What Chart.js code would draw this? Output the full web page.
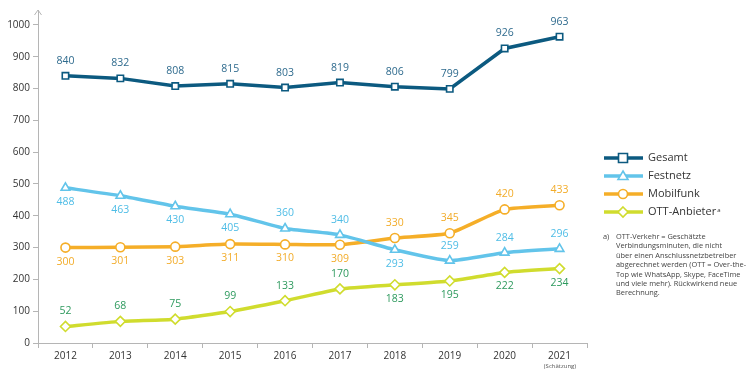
<!DOCTYPE html>
<html>
<head>
<meta charset="utf-8">
<script src="https://cdn.jsdelivr.net/npm/chart.js@4/dist/chart.umd.min.js"></script>
<style>
  html, body { margin: 0; padding: 0; background: #fff; }
  #wrap { position: relative; width: 750px; height: 378px; }
  #note {
    position: absolute; left: 603px; top: 232px; width: 147px;
    font-family: "Open Sans", sans-serif; font-size: 7.4px; line-height: 9.4px; color: #444;
    white-space: nowrap;
  }
  #note .a { position: absolute; left: 0; top: 0; }
  #note .t { margin-left: 13px; }
  #sch {
    position: absolute; left: 540px; top: 362px; width: 40px; text-align: center;
    font-family: "Open Sans", sans-serif; font-size: 6px; color: #555;
  }
</style>
</head>
<body>
<div id="wrap">
  <canvas id="chart" width="750" height="378"></canvas>
  <div id="note"><span class="a">a)</span><div class="t">OTT-Verkehr = Geschätzte<br>Verbindungsminuten, die nicht<br>über einen Anschlussnetzbetreiber<br>abgerechnet werden (OTT = Over-the-<br>Top wie WhatsApp, Skype, FaceTime<br>und viele mehr). Rückwirkend neue<br>Berechnung.</div></div>
  <div id="sch">(Schätzung)</div>
</div>
<script>
// Daten
var jahre = ["2012", "2013", "2014", "2015", "2016", "2017", "2018", "2019", "2020", "2021"];
var gesamt = [840, 832, 808, 815, 803, 819, 806, 799, 926, 963];
var festnetz = [488, 463, 430, 405, 360, 340, 293, 259, 284, 296];
var mobilfunk = [300, 301, 303, 311, 310, 309, 330, 345, 420, 433];
var ott = [52, 68, 75, 99, 133, 170, 183, 195, 222, 234];

// label ober-/unterhalb (1 = oben, -1 = unten)
var posGesamt = [1, 1, 1, 1, 1, 1, 1, 1, 1, 1];
var posFestnetz = [-1, -1, -1, -1, 1, 1, -1, 1, 1, 1];
var posMobilfunk = [-1, -1, -1, -1, -1, -1, 1, 1, 1, 1];
var posOtt = [1, 1, 1, 1, 1, 1, -1, -1, -1, -1];

var farben = {
    gesamt: "#0c5a80",
    festnetz: "#62c4ea",
    mobilfunk: "#f5ae28",
    ott: "#d0dc2e"
};

var radien = { rect: 4.5, triangle: 5, circle: 4.5, rectRot: 5 };

function serie(label, data, farbe, style, pos, labelFarbe) {
    return {
        label: label,
        data: data,
        borderColor: farbe,
        backgroundColor: "#fff",
        borderWidth: 3.5,
        pointStyle: style,
        pointRadius: radien[style],
        pointBorderWidth: 1.6,
        pointBackgroundColor: "#fff",
        pointBorderColor: farbe,
        tension: label == "Gesamt" ? 0 : 0.15,
        pos: pos,
        labelFarbe: labelFarbe
    };
}

// werte an den punkten
var werteLabels = {
    id: "werteLabels",
    afterDatasetsDraw: function (chart) {
        var ctx = chart.ctx;
        ctx.save();
        ctx.font = "10.5px 'Open Sans', sans-serif";
        ctx.textAlign = "center";
        ctx.textBaseline = "middle";
        chart.data.datasets.forEach(function (ds, i) {
            var meta = chart.getDatasetMeta(i);
            meta.data.forEach(function (pt, j) {
                ctx.fillStyle = ds.labelFarbe;
                var dy = ds.pos[j] > 0 ? -15 : 14;
                ctx.fillText(ds.data[j], pt.x, pt.y + dy);
            });
        });
        ctx.restore();
    }
};

// pfeil an der y-achse + legende rechts
var extras = {
    id: "extras",
    afterDraw: function (chart) {
        var ctx = chart.ctx;
        var x = chart.chartArea.left;
        var top = chart.chartArea.top;
        ctx.save();
        ctx.strokeStyle = "#b5b5b5";
        ctx.lineWidth = 1;
        ctx.beginPath();
        ctx.moveTo(x - 3.5, top + 5);
        ctx.lineTo(x, top);
        ctx.lineTo(x + 3.5, top + 5);
        ctx.stroke();

        var y0 = 158;
        chart.data.datasets.forEach(function (ds, i) {
            var y = y0 + i * 18;
            ctx.strokeStyle = ds.borderColor;
            ctx.lineWidth = 3.5;
            ctx.beginPath();
            ctx.moveTo(604, y);
            ctx.lineTo(643, y);
            ctx.stroke();
            ctx.fillStyle = "#fff";
            ctx.strokeStyle = ds.borderColor;
            ctx.lineWidth = 1.6;
            ctx.beginPath();
            var r = ds.pointRadius;
            if (ds.pointStyle == "rect") {
                ctx.rect(623 - r, y - r, 2 * r, 2 * r);
            } else if (ds.pointStyle == "circle") {
                ctx.arc(623, y, r, 0, Math.PI * 2);
            } else if (ds.pointStyle == "triangle") {
                ctx.moveTo(623, y - r);
                ctx.lineTo(623 + r, y + r * 0.7);
                ctx.lineTo(623 - r, y + r * 0.7);
                ctx.closePath();
            } else {
                ctx.moveTo(623, y - r);
                ctx.lineTo(623 + r, y);
                ctx.lineTo(623, y + r);
                ctx.lineTo(623 - r, y);
                ctx.closePath();
            }
            ctx.fill();
            ctx.stroke();
            ctx.fillStyle = "#333";
            ctx.font = "11px 'Open Sans', sans-serif";
            ctx.textAlign = "left";
            ctx.textBaseline = "middle";
            ctx.fillText(ds.label, 648, y);
            if (ds.label == "OTT-Anbieter") {
                var w = ctx.measureText(ds.label).width;
                ctx.font = "6px 'Open Sans', sans-serif";
                ctx.fillText("a", 649 + w, y - 2);
            }
        });
        ctx.restore();
    }
};

var chart = new Chart(document.getElementById("chart"), {
    type: "line",
    data: {
        labels: jahre,
        datasets: [
            serie("Gesamt", gesamt, farben.gesamt, "rect", posGesamt, "#2f6b8e"),
            serie("Festnetz", festnetz, farben.festnetz, "triangle", posFestnetz, "#4fbde6"),
            serie("Mobilfunk", mobilfunk, farben.mobilfunk, "circle", posMobilfunk, "#f2ac2a"),
            serie("OTT-Anbieter", ott, farben.ott, "rectRot", posOtt, "#2e9a5e")
        ]
    },
    options: {
        responsive: false,
        animation: false,
        layout: { padding: { top: 10, right: 163, left: 0, bottom: 0 } },
        plugins: {
            legend: { display: false },
            tooltip: { enabled: false }
        },
        scales: {
            x: {
                offset: true,
                grid: {
                    offset: true,
                    drawOnChartArea: false,
                    tickLength: 5,
                    color: "#b5b5b5"
                },
                border: { color: "#b5b5b5", width: 1 },
                ticks: {
                    color: "#333",
                    font: { family: "'Open Sans', sans-serif", size: 10 },
                    padding: 2,
                    maxRotation: 0
                },
                afterFit: function (scale) { scale.height = 35; }
            },
            y: {
                min: 0,
                max: 1047,
                grid: {
                    drawOnChartArea: false,
                    tickLength: 5,
                    color: "#b5b5b5"
                },
                border: { color: "#b5b5b5", width: 1 },
                ticks: {
                    stepSize: 100,
                    color: "#333",
                    padding: 3,
                    font: { family: "'Open Sans', sans-serif", size: 10 },
                    callback: function (v) { return String(v); }
                },
                afterBuildTicks: function (scale) {
                    scale.ticks = scale.ticks.filter(function (t) { return t.value % 100 == 0; });
                },
                afterFit: function (scale) { scale.width = 38; }
            }
        }
    },
    plugins: [werteLabels, extras]
});
</script>
</body>
</html>
